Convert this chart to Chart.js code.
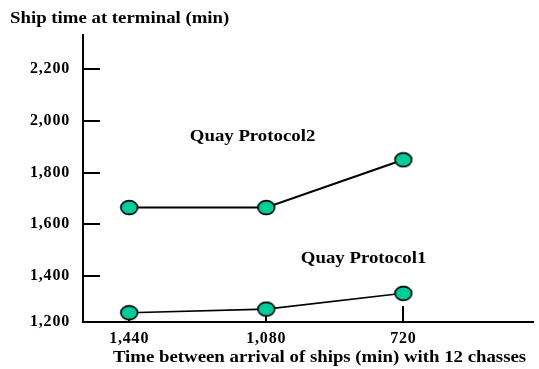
<!DOCTYPE html>
<html>
<head>
<meta charset="utf-8">
<script src="https://cdn.jsdelivr.net/npm/chart.js@4/dist/chart.umd.min.js"></script>
<style>
  html, body { margin: 0; padding: 0; background: #fff; }
  #wrap { width: 539px; height: 369px; position: relative; }
</style>
</head>
<body>
<div id="wrap"><canvas id="c"></canvas></div>
<script>
// Time between ship arrivals (min), in category order
const intervals = ['1,440', '1,080', '720'];
// Ship time at terminal (min)
const protocol2 = [1665, 1665, 1850];
const protocol1 = [1258, 1272, 1333];
// Value axis: the origin is labelled 1,200
const yTickValues = [1222, 1400, 1600, 1800, 2000, 2200];
const yTickLabels = ['1,200', '1,400', '1,600', '1,800', '2,000', '2,200'];

const SERIF = '"Liberation Serif", "Times New Roman", serif';
const MARKER_FILL = '#00CC99';

function makeMarker() {
  const c = document.createElement('canvas');
  c.width = 20; c.height = 17;
  const g = c.getContext('2d');
  g.beginPath();
  g.ellipse(10, 8.5, 8.4, 6.9, 0, 0, Math.PI * 2);
  g.fillStyle = MARKER_FILL;
  g.fill();
  g.lineWidth = 1.6;
  g.strokeStyle = '#000';
  g.stroke();
  return c;
}
const marker = makeMarker();

const toPoints = arr => arr.map((v, i) => ({ x: i, y: v }));

// Slightly widened lettering for the axis labels
const spacing = {
  id: 'spacing',
  beforeDraw(chart) { chart.ctx.letterSpacing = '0.8px'; },
  afterDraw(chart) { chart.ctx.letterSpacing = '0px'; }
};

// Short inward tick marks on both axes
const tickMarks = {
  id: 'tickMarks',
  beforeDatasetsDraw(chart) {
    const { ctx, scales: { x, y } } = chart;
    ctx.save();
    ctx.strokeStyle = '#000';
    ctx.lineWidth = 2;
    ctx.beginPath();
    y.ticks.forEach((t, i) => {
      if (i === 0) return;
      const py = Math.round(y.getPixelForValue(t.value));
      ctx.moveTo(x.left, py);
      ctx.lineTo(x.left + 17, py);
    });
    x.ticks.forEach(t => {
      const px = Math.round(x.getPixelForValue(t.value));
      ctx.moveTo(px, y.bottom);
      ctx.lineTo(px, y.bottom - 16);
    });
    ctx.stroke();
    ctx.restore();
  }
};

// Wide bold serif text, centred or left-aligned at (px, py)
function wideText(ctx, str, px, py, align) {
  const sx = 1.175;
  ctx.save();
  ctx.letterSpacing = '0px';
  ctx.font = 'bold 16px ' + SERIF;
  ctx.fillStyle = '#000';
  ctx.textBaseline = 'middle';
  ctx.textAlign = align;
  ctx.translate(px, py);
  ctx.scale(sx, 1);
  ctx.fillText(str, 0, 0);
  ctx.restore();
}

// Chart title, axis title and series labels
const texts = {
  id: 'texts',
  afterDraw(chart) {
    const { ctx, scales: { x, y } } = chart;
    wideText(ctx, 'Ship time at terminal (min)', 10, 19, 'left');
    wideText(ctx, 'Time between arrival of ships (min) with 12 chasses', 319.5, 358, 'center');
    wideText(ctx, 'Quay Protocol2', x.getPixelForValue(0.9), y.getPixelForValue(1938), 'center');
    wideText(ctx, 'Quay Protocol1', x.getPixelForValue(1.71), y.getPixelForValue(1466), 'center');
  }
};

new Chart(document.getElementById('c'), {
  type: 'line',
  data: {
    datasets: [
      {
        label: 'Quay Protocol2',
        data: toPoints(protocol2),
        borderColor: '#000',
        borderWidth: 2,
        pointStyle: marker,
        tension: 0
      },
      {
        label: 'Quay Protocol1',
        data: toPoints(protocol1),
        borderColor: '#000',
        borderWidth: 1.6,
        pointStyle: marker,
        tension: 0
      }
    ]
  },
  options: {
    responsive: true,
    maintainAspectRatio: false,
    animation: false,
    clip: false,
    layout: { padding: { top: 35, left: 0, right: 0, bottom: 0 } },
    plugins: { legend: { display: false }, tooltip: { enabled: false } },
    scales: {
      x: {
        type: 'linear',
        min: -0.337,
        max: 2.946,
        afterBuildTicks: s => { s.ticks = intervals.map((_, i) => ({ value: i })); },
        afterFit: s => { s.height = 47; },
        grid: { display: false, drawTicks: false },
        border: { display: true, color: '#000', width: 2 },
        ticks: {
          callback: (v, i) => intervals[i],
          color: '#000',
          padding: 7,
          maxRotation: 0,
          font: { family: SERIF, size: 16, weight: 'bold' }
        }
      },
      y: {
        min: 1222,
        max: 2333,
        afterBuildTicks: s => { s.ticks = yTickValues.map(v => ({ value: v })); },
        afterFit: s => { s.width = 83; },
        grid: { display: false, drawTicks: false },
        border: { display: true, color: '#000', width: 2 },
        ticks: {
          callback: (v, i) => yTickLabels[i],
          color: '#000',
          padding: 13,
          font: { family: SERIF, size: 16, weight: 'bold' }
        }
      }
    }
  },
  plugins: [spacing, tickMarks, texts]
});
</script>
</body>
</html>
